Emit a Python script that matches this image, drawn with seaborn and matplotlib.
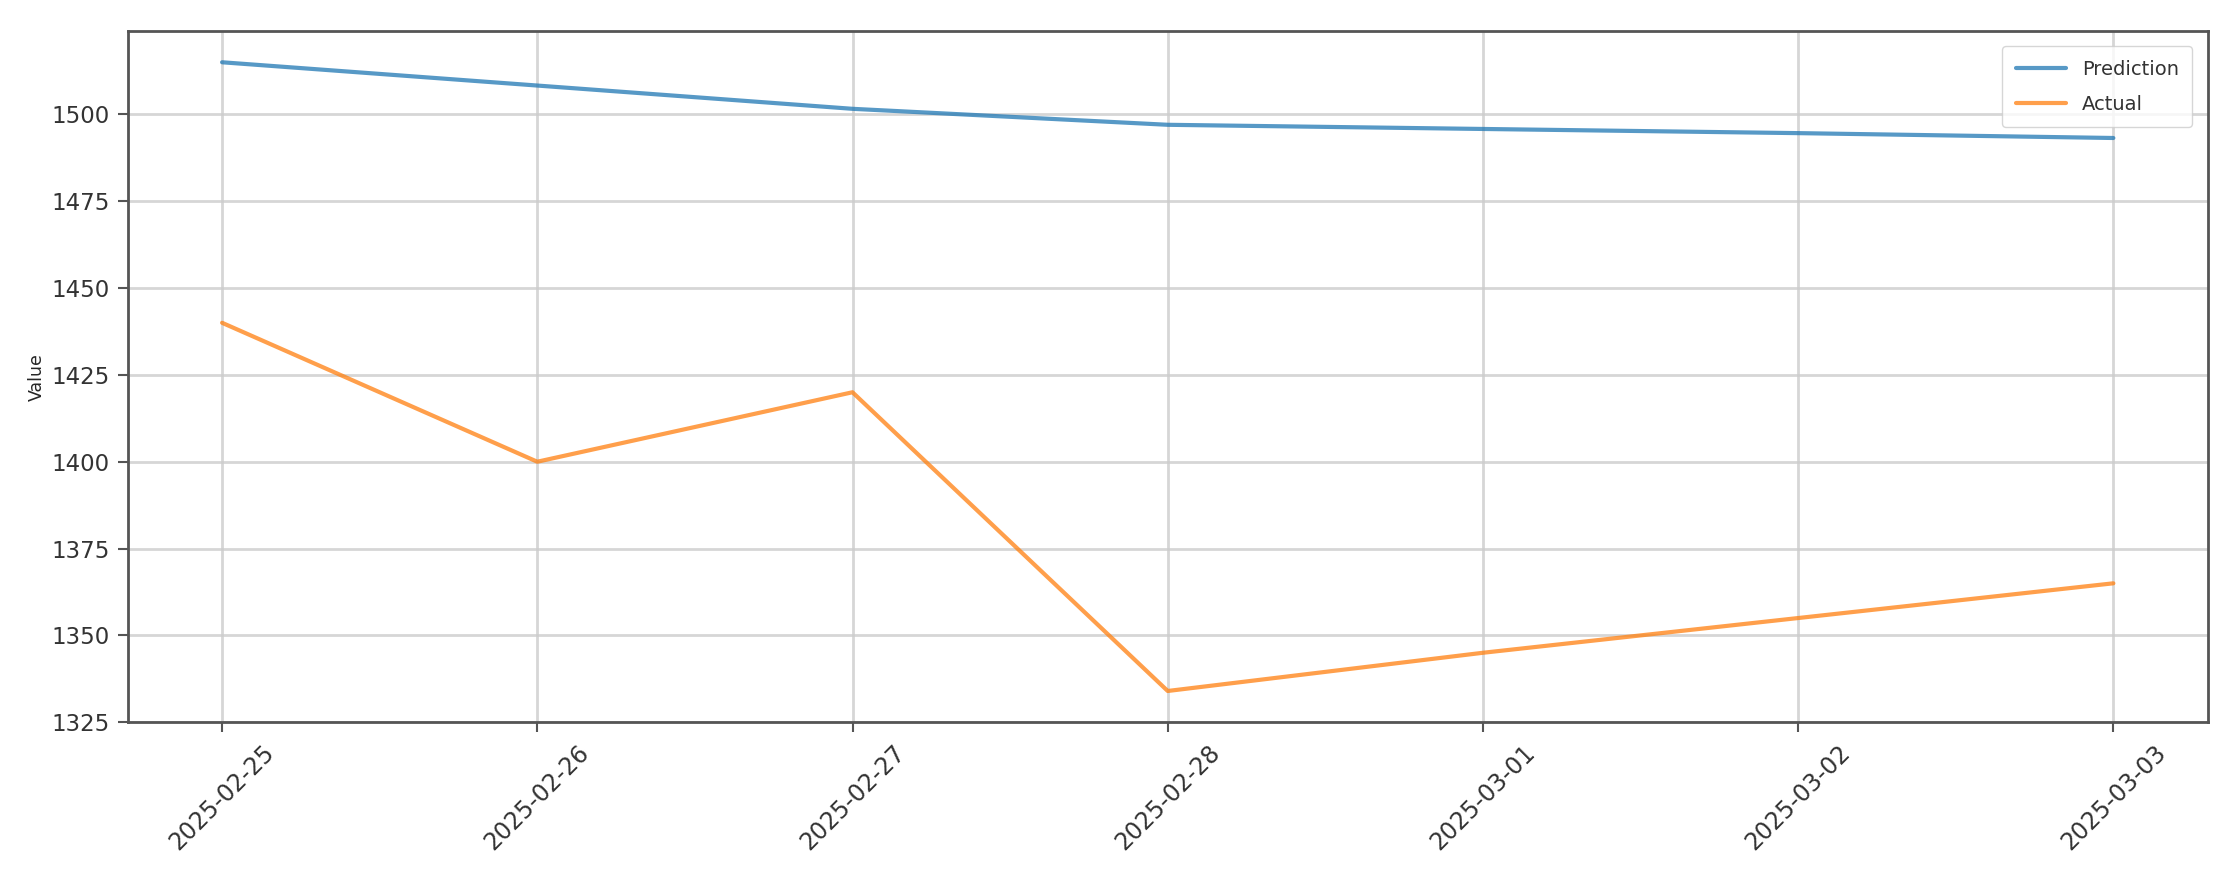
import seaborn as sns
import matplotlib.pyplot as plt
import pandas as pd

# data
dates = ["2025-02-25", "2025-02-26", "2025-02-27", "2025-02-28",
         "2025-03-01", "2025-03-02", "2025-03-03"]
prediction = [1515, 1508.3, 1501.6, 1497.0, 1495.8, 1494.6, 1493.2]
actual = [1440, 1400, 1420, 1334, 1345, 1355, 1365]

df = pd.DataFrame({"date": pd.to_datetime(dates),
                   "Prediction": prediction,
                   "Actual": actual})

sns.set_style("ticks")
fig, ax = plt.subplots(figsize=(22.37, 8.81), dpi=100)

sns.lineplot(data=df, x="date", y="Prediction", ax=ax, label="Prediction",
             color="#1f77b4", alpha=0.75, linewidth=3)
sns.lineplot(data=df, x="date", y="Actual", ax=ax, label="Actual",
             color="#ff7f0e", alpha=0.75, linewidth=3)

ax.set_xticks(df["date"])
ax.set_xticklabels(dates, rotation=45, fontsize=17, color="#333333")
ax.tick_params(axis="y", labelsize=16.5, labelcolor="#333333")
ax.tick_params(length=7, width=1.5, color="#555555", pad=6)
ax.set_xlabel("")
ax.set_ylabel("Value", fontsize=12.5)
ax.grid(True, color="#cccccc", linewidth=2, alpha=0.8)
for s in ax.spines.values():
    s.set_color("#555555")
    s.set_linewidth(2)

leg = ax.legend(loc="upper right", fontsize=14, handlelength=2.6,
                labelspacing=0.8, borderpad=0.7, borderaxespad=0.8)
for t in leg.get_texts():
    t.set_color("#333333")
fig.subplots_adjust(left=0.057, right=0.987, top=0.965, bottom=0.18)
fig.savefig("out.png")
